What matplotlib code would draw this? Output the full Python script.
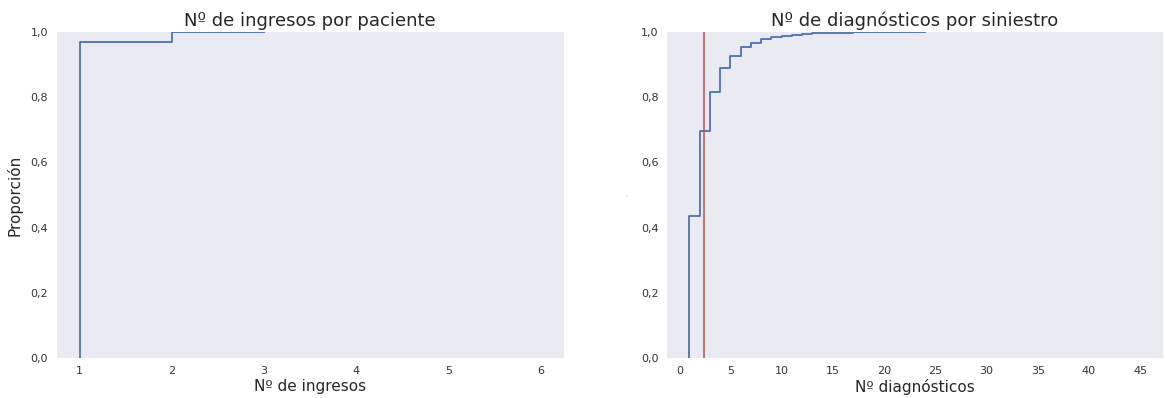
import numpy as np
import matplotlib
matplotlib.use("Agg")
import matplotlib.pyplot as plt
from matplotlib.ticker import FuncFormatter

# ---- data ----
ingresos_vals = [1, 2, 3]
ingresos_cum = [0.968, 0.999, 1.0]

diag_vals = [1, 2, 3, 4, 5, 6, 7, 8, 9, 10, 11, 12, 13, 14, 15, 16, 17, 18,
             20, 22, 24]
diag_cum = [0.435, 0.695, 0.816, 0.890, 0.925, 0.953, 0.967, 0.978, 0.985,
            0.989, 0.992, 0.995, 0.996, 0.997, 0.998, 0.9985, 0.999, 0.9993,
            0.9995, 0.9997, 1.0]
diag_mean = 2.42

titles = ["Nº de ingresos por paciente", "Nº de diagnósticos por siniestro"]
xlabels = ["Nº de ingresos", "Nº diagnósticos"]
ylabel = "Proporción"

plt.rcParams['font.family'] = ['DejaVu Sans']
BG = "#EAEAF2"
BLUE = "#4C72B0"
RED = "#C44E52"
TXT = "#262626"

fig = plt.figure(figsize=(11.65, 3.98), dpi=100)
ax1 = fig.add_axes([0.0485, 0.1005, 0.4355, 0.819])
ax2 = fig.add_axes([0.5725, 0.1005, 0.4255, 0.819])

def comma(v, pos):
    return f"{v:.1f}".replace(".", ",")

def style(ax):
    ax.set_facecolor(BG)
    for s in ax.spines.values():
        s.set_visible(False)
    ax.tick_params(length=0, labelsize=8, colors="#333333", pad=6)
    ax.yaxis.set_major_formatter(FuncFormatter(comma))
    ax.set_ylim(0, 1)
    ax.set_yticks([0, 0.2, 0.4, 0.6, 0.8, 1.0])

w1 = np.diff(np.concatenate([[0.0], ingresos_cum]))
ax1.ecdf(ingresos_vals, weights=w1, color=BLUE, lw=1.3)
style(ax1)
ax1.set_xlim(0.75, 6.25)
ax1.set_title(titles[0], fontsize=13, color=TXT, pad=4)
ax1.set_xlabel(xlabels[0], fontsize=11, color=TXT, labelpad=2)
ax1.set_ylabel(ylabel, fontsize=11, color=TXT, labelpad=6)

w2 = np.diff(np.concatenate([[0.0], diag_cum]))
ax2.ecdf(diag_vals, weights=w2, color=BLUE, lw=1.3)
ax2.axvline(diag_mean, color=RED, lw=1.3, alpha=0.85)
style(ax2)
ax2.set_xlim(-1.2, 47.2)
ax2.set_xticks(np.arange(0, 46, 5))
ax2.set_title(titles[1], fontsize=13, color=TXT, pad=4)
ax2.set_xlabel(xlabels[1], fontsize=11, color=TXT, labelpad=2)
ax2.set_ylabel("'", fontsize=6, color="#d0d0d0", labelpad=4)

fig.savefig("out.png", dpi=100)
